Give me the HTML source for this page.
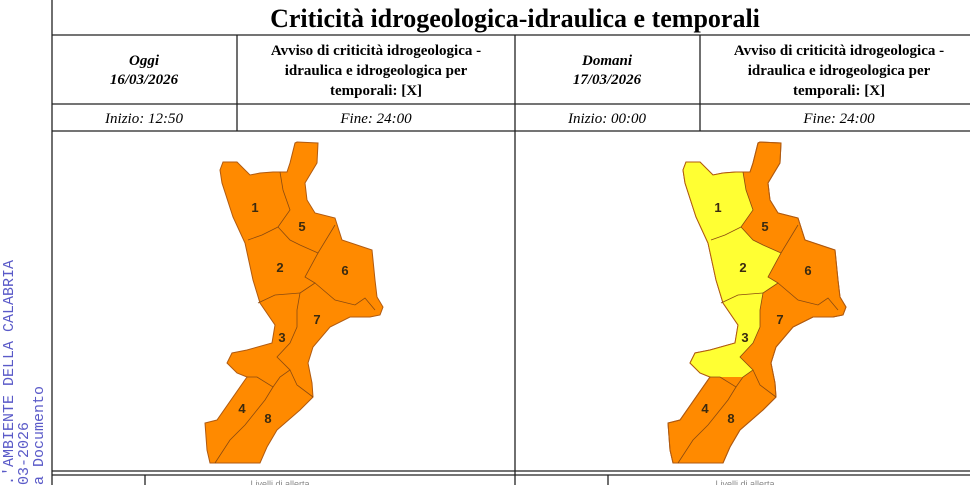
<!DOCTYPE html>
<html><head><meta charset="utf-8"><style>
html,body{margin:0;padding:0;background:#fff;}
body{width:970px;height:485px;overflow:hidden;position:relative;}
svg{position:absolute;left:0;top:0;}
.t{font-family:"Liberation Serif",serif;}
</style></head><body>
<svg width="970" height="485" viewBox="0 0 970 485">
<defs>
<path id="cal" d="M297,142 L318,143 L317,163 L305,183 L307,200 L315,213 L335,218 L342,240 L372,250 L375,280 L377,297 L383,307 L380,315 L370,317 L350,317 L330,327 L313,347 L308,363 L312,383 L313,397 L300,410 L277,430 L267,447 L260,463 L210,463 L207,450 L205,423 L217,420 L247,377 L237,373 L227,363 L232,353 L247,350 L272,343 L275,325 L260,303 L253,280 L245,243 L233,217 L222,183 L220,170 L223,162 L237,162 L250,175 L260,173 L273,172 L287,172 L290,163 L295,143 Z"/>
<clipPath id="cc"><use href="#cal"/></clipPath>
<g id="bord" fill="none" stroke="#8a4a10" stroke-width="0.8">
<path d="M280,172 L283,190 L290,210 L278,227 L290,240 L300,245 L318,253 L335,225"/>
<path d="M248,240 L262,235 L278,227"/>
<path d="M318,253 L305,277 L315,283 L300,293 L297,310 L297,327 L290,343 L277,357 L290,370 L280,377 L273,387 L257,377 L247,377"/>
<path d="M258,303 L275,295 L300,293"/>
<path d="M315,283 L335,300 L355,305 L365,298 L375,310"/>
<path d="M290,370 L297,385 L313,397"/>
<path d="M273,387 L265,400 L245,425 L230,440 L215,463"/>
</g>
<g id="lab" font-family="Liberation Sans,sans-serif" font-weight="bold" font-size="13" fill="#3a2a10" text-anchor="middle">
<text x="255" y="212">1</text><text x="302" y="231">5</text><text x="280" y="272">2</text><text x="345" y="275">6</text><text x="317" y="324">7</text><text x="282" y="342">3</text><text x="242" y="413">4</text><text x="268" y="423">8</text>
</g>
</defs>
<g font-family="Liberation Mono,monospace" font-size="15" fill="#5a5ac8">
<text transform="translate(13,485) rotate(-90)">.'AMBIENTE DELLA CALABRIA</text>
<text transform="translate(28,485) rotate(-90)">03-2026</text>
<text transform="translate(43,485) rotate(-90)">a Documento</text>
</g>
<g stroke="#222" stroke-width="1.3" fill="none">
<line x1="52" y1="0" x2="52" y2="485"/>
<line x1="52" y1="35" x2="970" y2="35"/>
<line x1="52" y1="104" x2="970" y2="104"/>
<line x1="52" y1="131" x2="970" y2="131"/>
<line x1="52" y1="471" x2="970" y2="471"/>
<line x1="52" y1="475" x2="970" y2="475"/>
<line x1="237" y1="35" x2="237" y2="131"/>
<line x1="515" y1="35" x2="515" y2="485"/>
<line x1="700" y1="35" x2="700" y2="131"/>
<line x1="145" y1="475" x2="145" y2="485"/>
<line x1="608" y1="475" x2="608" y2="485"/>
</g>
<text class="t" x="515" y="27" font-size="26" font-weight="bold" text-anchor="middle">Criticità idrogeologica-idraulica e temporali</text>
<g class="t" font-size="15" font-weight="bold" font-style="italic" text-anchor="middle">
<text x="144" y="65">Oggi</text><text x="144" y="84">16/03/2026</text>
<text x="607" y="65">Domani</text><text x="607" y="84">17/03/2026</text>
</g>
<g class="t" font-size="15" font-weight="bold" text-anchor="middle">
<text x="376" y="55">Avviso di criticità idrogeologica -</text>
<text x="376" y="75">idraulica e idrogeologica per</text>
<text x="376" y="95">temporali: [X]</text>
<text x="839" y="55">Avviso di criticità idrogeologica -</text>
<text x="839" y="75">idraulica e idrogeologica per</text>
<text x="839" y="95">temporali: [X]</text>
</g>
<g class="t" font-size="15" font-style="italic" text-anchor="middle">
<text x="144" y="123">Inizio: 12:50</text><text x="376" y="123">Fine: 24:00</text>
<text x="607" y="123">Inizio: 00:00</text><text x="839" y="123">Fine: 24:00</text>
</g>
<use href="#cal" fill="#ff8a00" stroke="#b05a10" stroke-width="1"/>
<use href="#bord"/><use href="#lab"/>
<g transform="translate(463,0)">
<use href="#cal" fill="#ff8a00" stroke="#b05a10" stroke-width="1"/>
<polygon clip-path="url(#cc)" fill="#ffff33" points="180,140 280,140 280,172 283,190 290,210 278,227 290,240 300,245 318,253 305,277 315,283 300,293 297,310 297,327 290,343 277,357 290,370 280,377 257,377 247,377 180,390"/>
<use href="#cal" fill="none" stroke="#b05a10" stroke-width="1"/>
<use href="#bord"/><use href="#lab"/>
</g>
<g font-family="Liberation Sans,sans-serif" font-size="9" fill="#888" text-anchor="middle">
<text x="280" y="487">Livelli di allerta</text><text x="745" y="487">Livelli di allerta</text>
</g>
</svg>
</body></html>
